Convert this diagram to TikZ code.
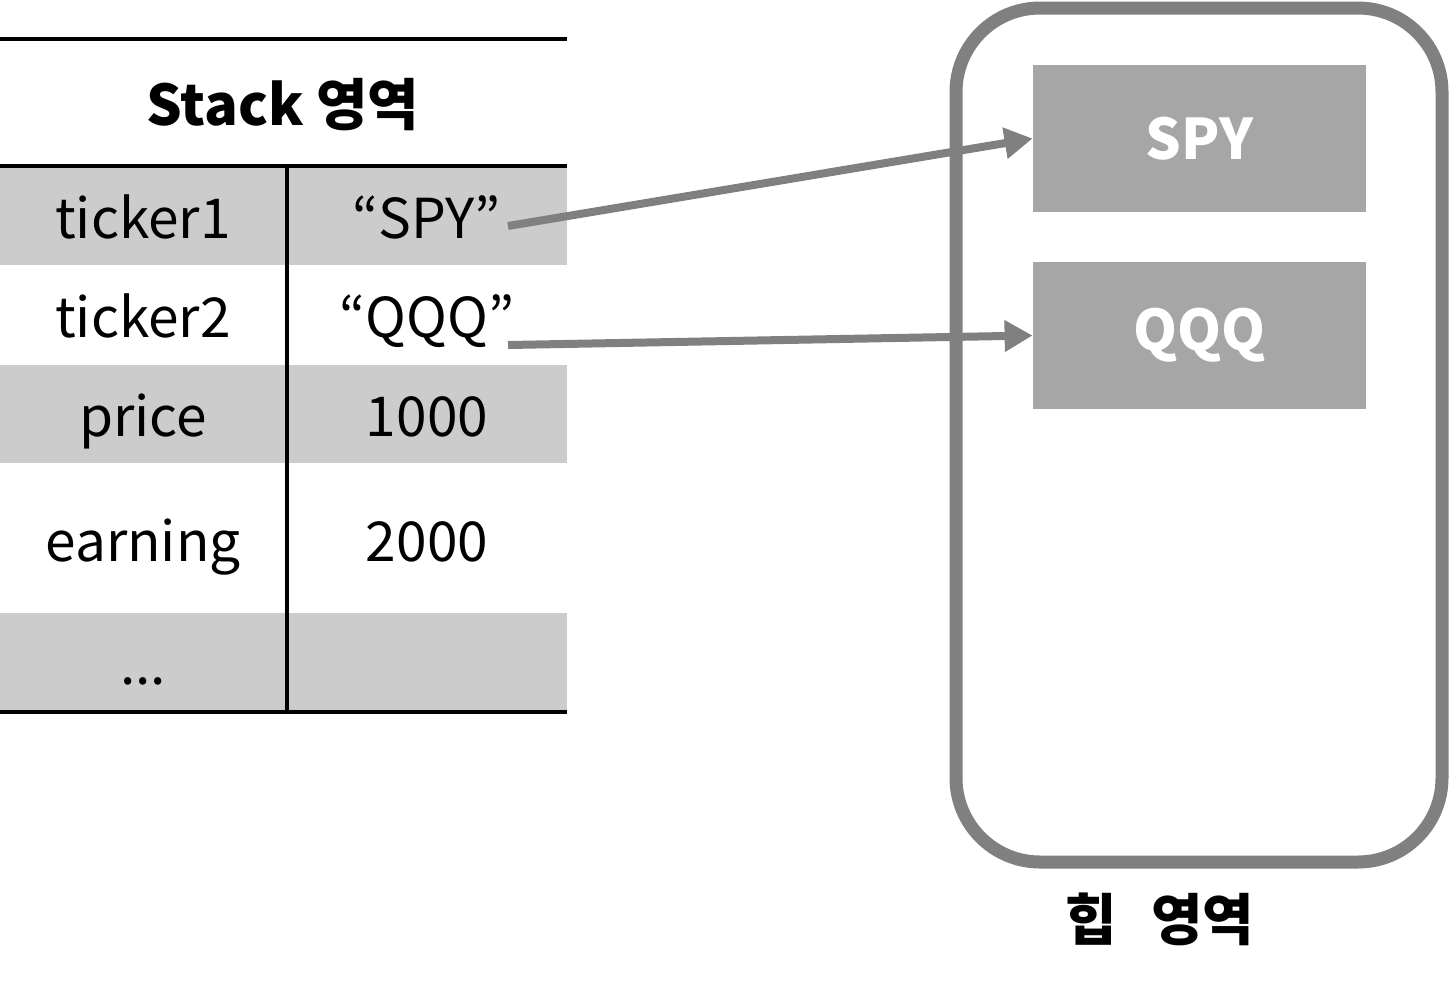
\documentclass[tikz,border=0pt]{standalone}
\usepackage{fontspec}
\setmainfont{Noto Sans CJK KR}
\usetikzlibrary{arrows.meta}
\begin{document}
\begin{tikzpicture}[x=0.5pt, y=-0.5pt,
    cell/.style={font=\fontsize{27.5}{33}\selectfont, anchor=base},
    title/.style={font=\fontsize{28}{34}\selectfont\bfseries, anchor=base},
    obj/.style={fill=black!35, minimum width=166.5pt, minimum height=73.5pt,
      inner sep=0pt, font=\fontsize{28}{34}\selectfont\bfseries, text=white},
    ref/.style={draw=black!50, line width=4pt,
      -{Triangle[length=14pt,width=15pt]}}]
  \useasboundingbox (0,0) rectangle (1450,987);
  \def\xL{143} \def\xR{427}
  % 스택 영역 : 회색 줄 = 1,3,5번째 칸
  \fill[black!20] (0,166) rectangle (567,265);
  \fill[black!20] (0,365) rectangle (567,463);
  \fill[black!20] (0,613) rectangle (567,712);
  \draw[line width=2pt] (0,39) -- (567,39);
  \draw[line width=2pt] (0,166) -- (567,166);
  \draw[line width=2pt] (0,712) -- (567,712);
  \draw[line width=2pt] (287,166) -- (287,712);
  \node[title] (stk) at (283,125) {Stack 영역};
  \node[cell] (k1) at (\xL,238) {ticker1};
  \node[cell] (v1) at (\xR,238) {“SPY”};
  \node[cell] (k2) at (\xL,337) {ticker2};
  \node[cell] (v2) at (\xR,337) {“QQQ”};
  \node[cell] (k3) at (\xL,436) {price};
  \node[cell] (v3) at (\xR,436) {1000};
  \node[cell] (k4) at (\xL,561) {earning};
  \node[cell] (v4) at (\xR,561) {2000};
  \node[cell] (k5) at (\xL,684) {...};
  % 힙 영역
  \draw[draw=black!50, line width=6.5pt, rounded corners=42pt] (956,8) rectangle (1442,862);
  \node[obj] (spy) at (1199.5,138.5) {SPY};
  \node[obj] (qqq) at (1199.5,335.5) {QQQ};
  \node[title] (heap) at (1160,940) {힙\hspace{0.6em}영역};
  % 참조 화살표
  \coordinate (s1) at (508,226);
  \coordinate (s2) at (508,345);
  \draw[ref] (s1) -- (spy.west);
  \draw[ref] (s2) -- (qqq.west);
\end{tikzpicture}
\end{document}
